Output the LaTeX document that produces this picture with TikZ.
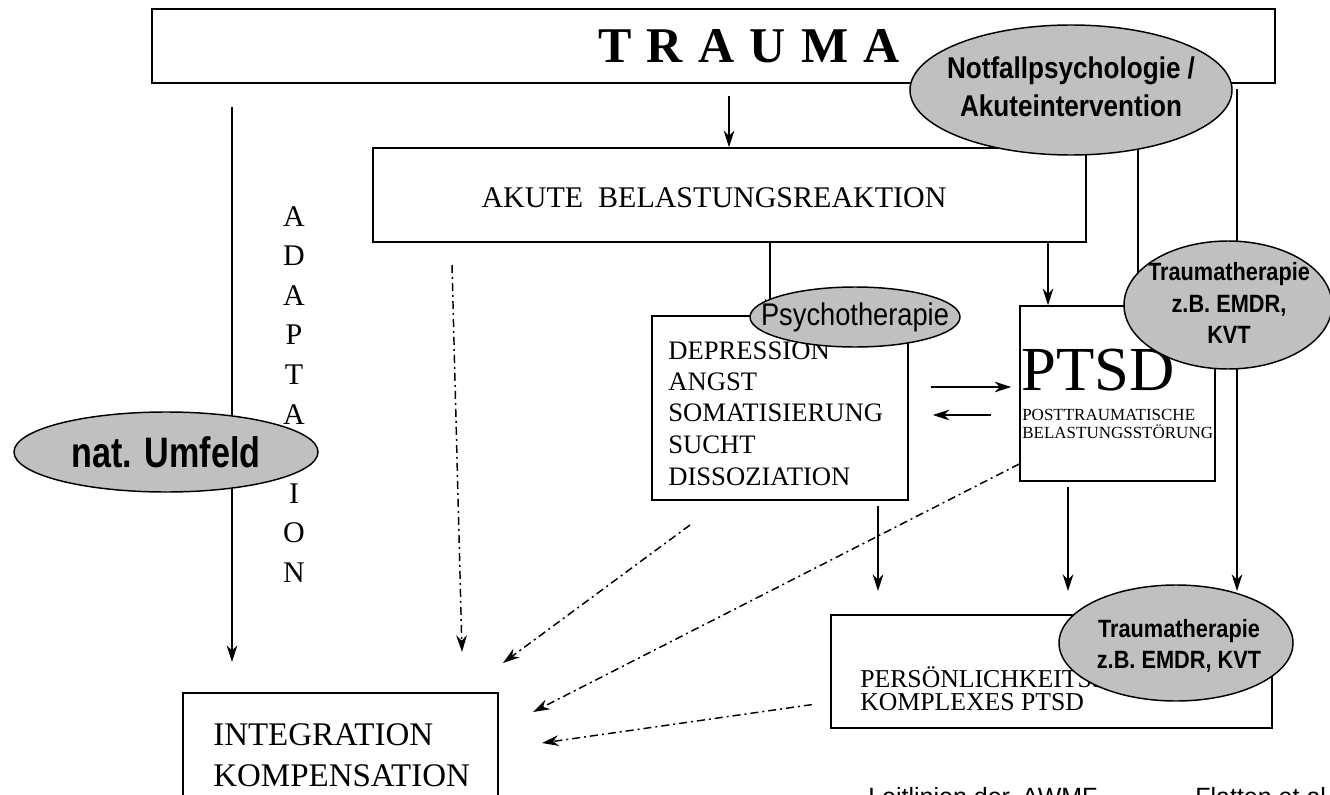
\documentclass[tikz,border=0pt]{standalone}
\usepackage{fontspec}
\setmainfont{Liberation Serif}
\newfontfamily\arialn[FakeStretch=0.87]{Liberation Sans}
\newfontfamily\arialnn[FakeStretch=0.8]{Liberation Sans}
\newfontfamily\arialf{Liberation Sans}
\usetikzlibrary{arrows.meta,shapes.geometric,calc}
\pgfdeclarelayer{front}
\pgfsetlayers{main,front}
\definecolor{ovalgrey}{RGB}{192,192,192}

\tikzset{
  box/.style={draw=black, line width=1.1pt, inner sep=0pt},
  cloud/.style={ellipse, draw=black, fill=ovalgrey, line width=1.1pt, inner sep=0pt},
  cloudtext/.style={inner sep=0pt, align=center},
  line/.style={anchor=base west, inner sep=0pt},
  link/.style={line width=1.1pt, -{Stealth[length=12.5pt,width=8pt,inset=4pt]}},
  plain/.style={line width=1.1pt},
  dashlink/.style={link, dash pattern=on 6pt off 3pt on 1.5pt off 3pt},
}

\begin{document}
\begin{tikzpicture}[x=0.75pt,y=-0.75pt]
\useasboundingbox (0,0) rectangle (1330,795);
\clip (0,0) rectangle (1330,795);

% ---------- boxes and their texts ----------
\node[box, minimum width=842.25pt, minimum height=55.5pt] (traumabox) at (713.5,46) {};
\node[anchor=base, inner sep=0pt, font=\bfseries\fontsize{37.5}{40}\selectfont] (traumatxt) at (749,63)
  {T\kern11.5pt R\kern11.5pt A\kern11.5pt U\kern11.5pt M\kern11.5pt A};

\node[box, minimum width=534.75pt, minimum height=70.5pt] (akute) at (729.5,195) {};
\node[anchor=base, inner sep=0pt, font=\fontsize{22.5}{26}\selectfont] (akutetxt) at (714,207)
  {AKUTE\ \ BELASTUNGSREAKTION};

\foreach \l [count=\i from 0] in {A,D,A,P,T,A,T,I,O,N}
  \node[anchor=base, inner sep=0pt, font=\fontsize{22.5}{26}\selectfont] (adapt\i) at (294,{226+39.6*\i}) {\l};

\node[box, minimum width=192pt, minimum height=138pt] (depr) at (780,408) {};
\foreach \t/\y [count=\k] in {DEPRESSION/359, ANGST/390, SOMATISIERUNG/421, SUCHT/453, DISSOZIATION/485}
  \node[line, font=\fontsize{20}{24}\selectfont] (deprl\k) at (668,\y) {\t};

\node[box, minimum width=146.25pt, minimum height=131.25pt] (ptsd) at (1117.5,393.5) {};
\node[line, font=\fontsize{47}{50}\selectfont] (ptsdtxt) at (1021,390) {PTSD};
\node[line, font=\fontsize{12.75}{15}\selectfont] (ptsdl1) at (1022,420) {POSTTRAUMATISCHE};
\node[line, font=\fontsize{12.75}{15}\selectfont] (ptsdl2) at (1022,438) {BELASTUNGSSTÖRUNG};

\node[box, minimum width=330.75pt, minimum height=84.75pt] (pers) at (1051.5,671.5) {};
\node[line, font=\fontsize{19.3}{24}\selectfont] (persl1) at (860,687) {PERSÖNLICHKEITSSTÖRUNG};
\node[line, font=\fontsize{19.3}{24}\selectfont] (persl2) at (860,710) {KOMPLEXES PTSD};

\node[box, minimum width=236.25pt, minimum height=102.75pt] (integ) at (340.5,761.5) {};
\node[line, font=\fontsize{24.75}{28}\selectfont] (integl1) at (213,745) {INTEGRATION};
\node[line, font=\fontsize{24.75}{28}\selectfont] (integl2) at (213,786) {KOMPENSATION};

\node[line, font=\arialf\fontsize{18.75}{22}\selectfont] (source) at (868,805)
  {Leitlinien der\hspace{9pt}AWMF\hspace{31.5pt}–\hspace{31.5pt}Flatten et al.};

% ---------- grey ovals on top ----------
\begin{pgfonlayer}{front}
\node[cloud, minimum width=241.5pt, minimum height=97.5pt] (notfall) at (1071,90) {};
\node[cloudtext, font=\arialn\bfseries\fontsize{22.5}{28.5}\selectfont] (notfalltxt) at (1071,87)
  {Notfallpsychologie /\\Akuteintervention};

\node[cloud, minimum width=157.5pt, minimum height=45pt] (psycho) at (855,317) {};
\node[cloudtext, font=\arialn\fontsize{23.5}{26}\selectfont] (psychotxt) at (psycho.center) {Psychotherapie};

\node[cloud, minimum width=156pt, minimum height=96pt] (ther1) at (1228,305) {};
\node[cloudtext, font=\arialn\bfseries\fontsize{18.75}{23.5}\selectfont] (ther1txt) at (1229,303)
  {Traumatherapie\\z.B. EMDR,\\KVT};

\node[cloud, minimum width=175.5pt, minimum height=87pt] (ther2) at (1176,643) {};
\node[cloudtext, font=\arialn\bfseries\fontsize{18.75}{23}\selectfont] (ther2txt) at (1179,646)
  {Traumatherapie\\z.B. EMDR, KVT};

\node[cloud, minimum width=228pt, minimum height=60pt] (umfeld) at (166,452) {};
\node[cloudtext, font=\arialnn\bfseries\fontsize{32}{34}\selectfont] (umfeldtxt) at (umfeld.center) {nat. Umfeld};
\end{pgfonlayer}

% ---------- connectors ----------
\coordinate (xpsy) at (770,0);
\coordinate (xptsd) at (1048,0);
\coordinate (xnot) at (1138,0);
\coordinate (yfwd) at (0,387);
\coordinate (yback) at (0,415);
\coordinate (yptsdout) at (0,464);
\coordinate (ypersout) at (0,702);

\coordinate (top1) at (729,96);
\draw[link] (top1) -- (akute.north -| top1);

\coordinate (adaptstart) at (232,107);
\coordinate (adaptend) at (232,662);
\draw[link] (adaptstart) -- (adaptend);

\draw[link] (akute.south -| xpsy) -- (depr.north -| xpsy);
\draw[link] (akute.south -| xptsd) -- (ptsd.north -| xptsd);
\draw[plain] (notfall.center -| xnot) -- (ther1.center -| xnot);

\coordinate (tip1) at (878,591);
\coordinate (tip2) at (1068,591);
\coordinate (tip3) at (1237,591);
\draw[link, shorten <=4pt] (depr.south -| tip1) -- (tip1);
\draw[link, shorten <=4pt] (ptsd.south -| tip2) -- (tip2);
\draw[link, shorten <=4pt] (traumabox.south -| tip3) -- (tip3);

\draw[link, shorten <=16.5pt, shorten >=6pt] (depr.east |- yfwd) -- (ptsd.west |- yfwd);
\draw[link, shorten <=21pt, shorten >=18pt] (ptsd.west |- yback) -- (depr.east |- yback);

\coordinate (d1s) at (452,265);
\coordinate (d1e) at (462,652);
\draw[dashlink] (d1s) -- (d1e);
\coordinate (d2s) at (690,525);
\coordinate (d2e) at (503,663);
\draw[dashlink] (d2s) -- (d2e);
\coordinate (d3e) at (533,712);
\draw[dashlink] (ptsd.west |- yptsdout) -- (d3e);
\coordinate (d4e) at (542,743);
\draw[dashlink, shorten <=14pt] (pers.west |- ypersout) -- (d4e);
\end{tikzpicture}
\end{document}
